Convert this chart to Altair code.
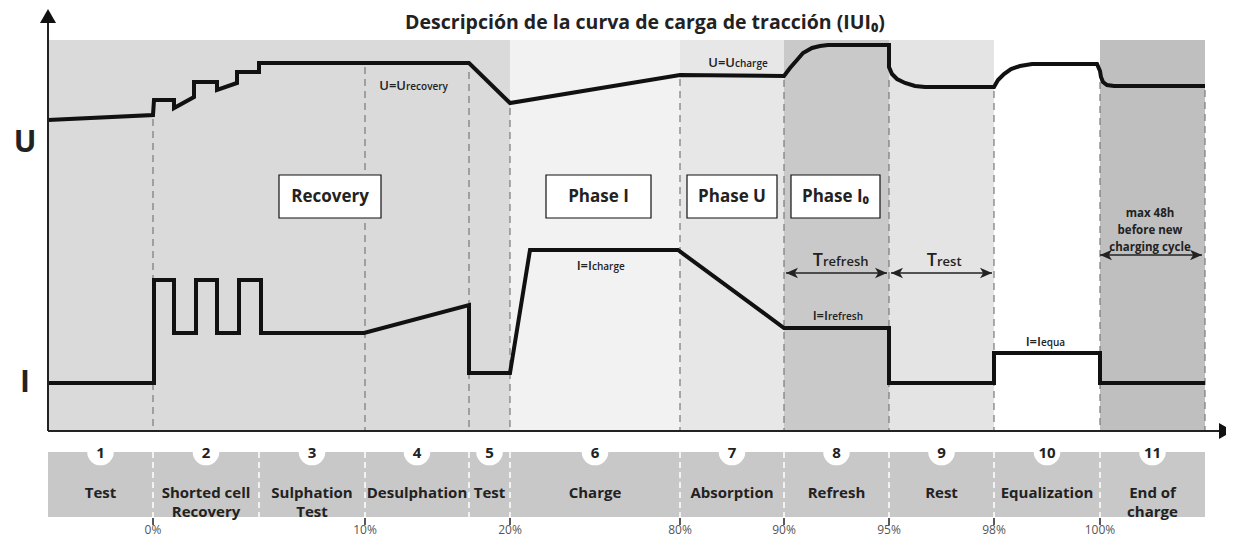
import altair as alt
import pandas as pd

# ---------------- data (schematic units) ----------------
bounds = [48, 153, 259, 365, 469, 510, 680, 784, 889, 994, 1100, 1205]
seg_nums = ["1", "2", "3", "4", "5", "6", "7", "8", "9", "10", "11"]
seg_labels = ["Test", "Shorted cell\nRecovery", "Sulphation\nTest", "Desulphation", "Test",
              "Charge", "Absorption", "Refresh", "Rest", "Equalization", "End of\ncharge"]

band_x0 = [48, 510, 680, 784, 889, 994, 1100]
band_x1 = [510, 680, 784, 889, 994, 1100, 1205]
band_col = ["#dadada", "#f2f2f2", "#e7e7e7", "#c9c9c9", "#e4e4e4", "#ffffff", "#bfbfbf"]

pct_x = [153, 365, 510, 680, 784, 889, 994, 1100]
pct_lab = ["0%", "10%", "20%", "80%", "90%", "95%", "98%", "100%"]

dash_x = [153, 365, 469, 510, 680, 784, 889, 994, 1100, 1205]
dash_top = [119, 67, 72, 108, 79, 80, 80, 91, 70, 90]

u_x = [48, 153, 154, 174, 174, 194, 194, 217, 217, 237, 237, 259, 259, 469, 510, 680, 784,
       790, 797, 803, 812, 820, 828, 889, 889, 892, 897, 905, 915, 925, 994,
       998, 1004, 1011, 1020, 1032, 1097, 1100, 1101, 1103, 1107, 1114, 1205]
u_y = [120, 115, 100, 100, 108, 97, 82, 82, 90, 83, 72, 72, 63, 63, 103, 75, 76,
       68, 60, 53, 48, 46, 45, 45, 67, 74, 79, 83, 86, 87, 87,
       80, 74, 69, 66, 64, 64, 71, 77, 82, 85, 86, 86]

i_x = [48, 154, 154, 174, 174, 196, 196, 217, 217, 239, 239, 261, 261, 364, 469, 469, 510,
       530, 678, 784, 889, 889, 994, 994, 1100, 1100, 1205]
i_y = [383, 383, 280, 280, 333, 333, 280, 280, 333, 333, 280, 280, 333, 333, 305, 373, 373,
       250, 250, 328, 328, 383, 383, 353, 353, 383, 383]

box_x0 = [279, 546, 687, 791]
box_x1 = [381, 651, 777, 880]
box_text = ["Recovery", "Phase I", "Phase U", "Phase I\u2080"]

ann_main = ["U=U", "U=U", "I=I", "I=I", "I=I", "T", "T"]
ann_sub = ["recovery", "charge", "charge", "refresh", "equa", "refresh", "rest"]
ann_join_x = [406, 735, 592, 828, 1041, 823, 937]
ann_base = [90, 67, 270, 320, 346, 266, 266]
ann_main_size = [13, 13, 13, 13, 13, 18, 18]
ann_sub_size = [10, 10, 10, 10, 10, 13, 13]

arrow_x0 = [786, 891, 1100]
arrow_x1 = [887, 992, 1202]
arrow_y = [273, 273, 255]

# ---------------- scales ----------------
TOP = 8
W, H = 1218, 529 - TOP
XS = alt.Scale(domain=[8, 8 + W], nice=False, zero=False)
YS = alt.Scale(domain=[8 + TOP, 8 + TOP + H], nice=False, zero=False, reverse=True)


def ex(f):
    return alt.X(f, type="quantitative", scale=XS, axis=None)


def ey(f):
    return alt.Y(f, type="quantitative", scale=YS, axis=None)


FONT = "Open Sans"
layers = []

# background bands
bands = pd.DataFrame({"x": band_x0, "x2": band_x1, "c": band_col, "y": 40, "y2": 431})
layers.append(alt.Chart(bands).mark_rect().encode(
    x=ex("x"), x2="x2", y=ey("y"), y2="y2", color=alt.Color("c:N", scale=None)))

# bottom strip
strip = pd.DataFrame({"x": [bounds[0]], "x2": [bounds[-1]], "y": [452], "y2": [517]})
layers.append(alt.Chart(strip).mark_rect(color="#c8c8c8").encode(
    x=ex("x"), x2="x2", y=ey("y"), y2="y2"))

# grey dashed phase lines
dl = pd.DataFrame({"x": dash_x, "y": dash_top, "y2": 431})
layers.append(alt.Chart(dl).mark_rule(color="#7a7a7a", strokeWidth=1.2, strokeDash=[7, 5]).encode(
    x=ex("x"), y=ey("y"), y2="y2"))

# white dashed lines in strip
wl = pd.DataFrame({"x": bounds[1:-1], "y": 452, "y2": 517})
layers.append(alt.Chart(wl).mark_rule(color="white", strokeWidth=1.5, strokeDash=[6, 4]).encode(
    x=ex("x"), y=ey("y"), y2="y2"))

# U and I curves
ud = pd.DataFrame({"x": u_x, "y": u_y, "i": range(len(u_x))})
idf = pd.DataFrame({"x": i_x, "y": i_y, "i": range(len(i_x))})
for d in (ud, idf):
    layers.append(alt.Chart(d).mark_line(color="#111111", strokeWidth=4, strokeJoin="miter").encode(
        x=ex("x"), y=ey("y"), order=alt.Order("i:Q")))

# axes
ax = pd.DataFrame({"x": [48, 48], "y": [22, 431], "x2": [48, 1220], "y2": [431, 431]})
layers.append(alt.Chart(ax).mark_rule(color="#222222", strokeWidth=2).encode(
    x=ex("x"), y=ey("y"), x2="x2", y2="y2"))
layers.append(alt.Chart(pd.DataFrame({"x": [48], "y": [9]})).mark_point(
    shape="M0,0L-1,1.75L1,1.75Z", size=256, filled=True, color="#111111", opacity=1).encode(
    x=ex("x"), y=ey("y")))
layers.append(alt.Chart(pd.DataFrame({"x": [1233], "y": [431]})).mark_point(
    shape="M0,0L-1.75,-1L-1.75,1Z", size=256, filled=True, color="#111111", opacity=1).encode(
    x=ex("x"), y=ey("y")))

# strip ticks
tk = pd.DataFrame({"x": pct_x, "y": 518, "y2": 525})
layers.append(alt.Chart(tk).mark_rule(color="#222222", strokeWidth=1.5).encode(
    x=ex("x"), y=ey("y"), y2="y2"))

# boxes
bx = pd.DataFrame({"x": box_x0, "x2": box_x1, "y": 175, "y2": 218, "t": box_text,
                   "xm": [(a + b) / 2 for a, b in zip(box_x0, box_x1)], "ym": 197})
layers.append(alt.Chart(bx).mark_rect(fill="white", stroke="#111111", strokeWidth=1.2).encode(
    x=ex("x"), x2="x2", y=ey("y"), y2="y2"))
layers.append(alt.Chart(bx).mark_text(font=FONT, fontWeight="bold", fontSize=17, color="#222222",
                                      baseline="middle").encode(
    x=ex("xm"), y=ey("ym"), text="t:N"))

# annotation arrows
ar = pd.DataFrame({"x": arrow_x0, "x2": arrow_x1, "y": arrow_y})
layers.append(alt.Chart(ar).mark_rule(color="#222222", strokeWidth=1.5).encode(
    x=ex("x"), x2="x2", y=ey("y")))
layers.append(alt.Chart(ar).mark_point(shape="M0,0L3,-1.3L2.2,0L3,1.3Z", size=64, filled=True,
                                       color="#222222", opacity=1).encode(x=ex("x"), y=ey("y")))
layers.append(alt.Chart(ar).mark_point(shape="M0,0L-3,-1.3L-2.2,0L-3,1.3Z", size=64, filled=True,
                                       color="#222222", opacity=1).encode(x=ex("x2"), y=ey("y")))

# annotation texts (main part right-aligned, subscript part left-aligned at the join)
an = pd.DataFrame({"t": ann_main, "x": ann_join_x, "y": ann_base, "s": ann_main_size})
layers.append(alt.Chart(an).mark_text(font=FONT, fontWeight=600, color="#222222", align="right",
                                      baseline="alphabetic").encode(
    x=ex("x"), y=ey("y"), text="t:N", size=alt.Size("s:Q", scale=None)))
asub = pd.DataFrame({"t": ann_sub, "x": ann_join_x, "y": ann_base, "s": ann_sub_size})
layers.append(alt.Chart(asub).mark_text(font=FONT, fontWeight=600, color="#222222", align="left",
                                        baseline="alphabetic").encode(
    x=ex("x"), y=ey("y"), text="t:N", size=alt.Size("s:Q", scale=None)))

mx = pd.DataFrame({"t": ["max 48h\nbefore new\ncharging cycle"], "x": [1150], "y": [214]})
layers.append(alt.Chart(mx).mark_text(font=FONT, fontWeight="bold", fontSize=11.5, color="#222222",
                                      lineBreak="\n", lineHeight=17, baseline="middle").encode(
    x=ex("x"), y=ey("y"), text="t:N"))

# numbered circles and strip labels
mids = [(a + b) / 2 for a, b in zip(bounds[:-1], bounds[1:])]
cd = pd.DataFrame({"x": mids, "y": 452, "n": seg_nums, "l": seg_labels, "ly": 493})
layers.append(alt.Chart(cd).mark_circle(size=707, color="white", opacity=1).encode(
    x=ex("x"), y=ey("y")))
layers.append(alt.Chart(cd).mark_text(font=FONT, fontWeight="bold", fontSize=15, color="#222222",
                                      baseline="middle", dy=1).encode(
    x=ex("x"), y=ey("y"), text="n:N"))
layers.append(alt.Chart(cd).mark_text(font=FONT, fontWeight="bold", fontSize=15, color="#222222",
                                      baseline="middle", lineBreak="\n", lineHeight=19).encode(
    x=ex("x"), y=ey("ly"), text="l:N"))

# percent labels
pl = pd.DataFrame({"x": pct_x, "y": 530, "t": pct_lab})
layers.append(alt.Chart(pl).mark_text(font=FONT, fontSize=12, color="#555555",
                                      baseline="middle").encode(
    x=ex("x"), y=ey("y"), text="t:N"))

# title and axis letters
tt = pd.DataFrame({"t": ["Descripción de la curva de carga de tracción (IUI\u2080)"], "x": [645], "y": [23]})
layers.append(alt.Chart(tt).mark_text(font=FONT, fontWeight="bold", fontSize=19.5, color="#222222",
                                      baseline="middle").encode(
    x=ex("x"), y=ey("y"), text="t:N"))
ul = pd.DataFrame({"t": ["U", "I"], "x": [25, 25], "y": [143, 383]})
layers.append(alt.Chart(ul).mark_text(font=FONT, fontWeight="bold", fontSize=30, color="#222222",
                                      baseline="middle").encode(
    x=ex("x"), y=ey("y"), text="t:N"))

chart = alt.layer(*layers).properties(
    width=W, height=H, padding={"top": TOP, "left": 0, "right": 0, "bottom": 0},
    autosize=alt.AutoSizeParams(type="none")
).configure_view(stroke=None)

chart.save("out.html", embed_options={"renderer": "svg", "actions": False})
